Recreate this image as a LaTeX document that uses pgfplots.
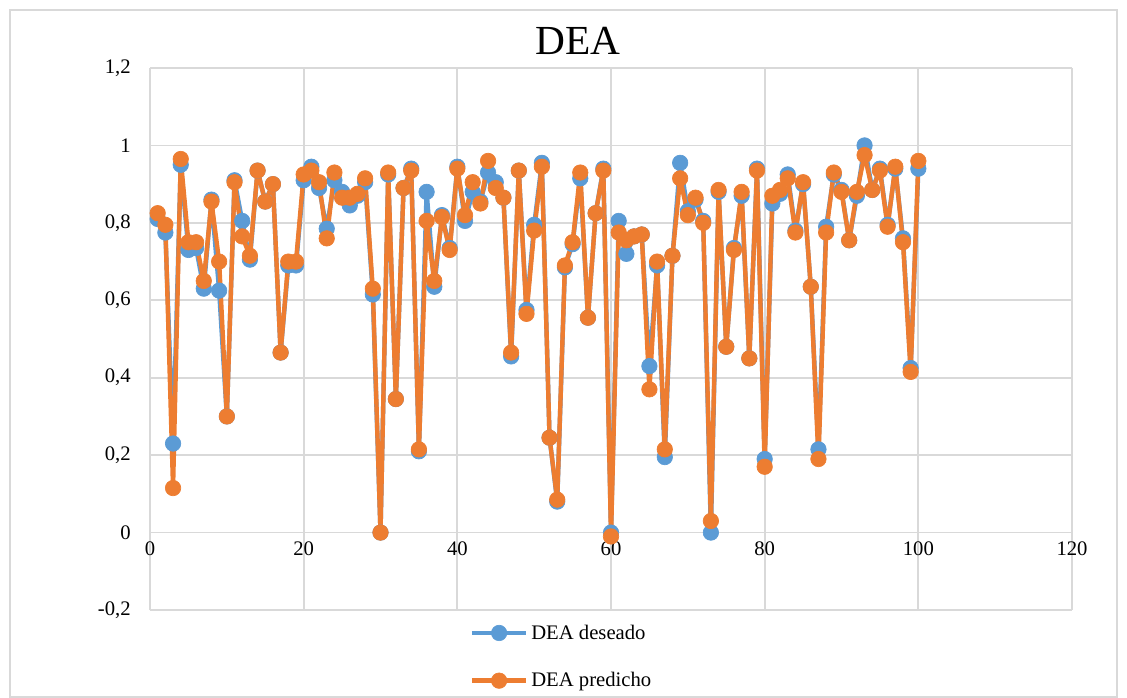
\documentclass[border=0pt]{standalone}
\usepackage{fontspec}
\setmainfont{Liberation Serif}
\usepackage{pgfplots}
\usepackage{pgfplotstable}
\pgfplotsset{compat=1.18}
\definecolor{cblue}{HTML}{5B9BD5}
\definecolor{corange}{HTML}{ED7D31}
\definecolor{gridgray}{HTML}{D9D9D9}
\pgfplotstableread{
i d p
1 0.81 0.825
2 0.775 0.795
3 0.23 0.115
4 0.95 0.965
5 0.73 0.75
6 0.735 0.75
7 0.63 0.65
8 0.86 0.855
9 0.625 0.70
10 0.30 0.30
11 0.91 0.905
12 0.805 0.765
13 0.705 0.715
14 0.935 0.935
15 0.855 0.855
16 0.90 0.90
17 0.465 0.465
18 0.69 0.70
19 0.69 0.70
20 0.91 0.925
21 0.945 0.935
22 0.89 0.905
23 0.785 0.76
24 0.91 0.93
25 0.88 0.865
26 0.845 0.865
27 0.87 0.875
28 0.905 0.915
29 0.615 0.63
30 0.0 0.0
31 0.925 0.93
32 0.345 0.345
33 0.89 0.89
34 0.94 0.935
35 0.21 0.215
36 0.88 0.805
37 0.635 0.65
38 0.82 0.815
39 0.735 0.73
40 0.945 0.94
41 0.805 0.82
42 0.88 0.905
43 0.855 0.85
44 0.93 0.96
45 0.905 0.89
46 0.865 0.865
47 0.455 0.465
48 0.935 0.935
49 0.575 0.565
50 0.795 0.78
51 0.955 0.945
52 0.245 0.245
53 0.08 0.085
54 0.685 0.69
55 0.745 0.75
56 0.915 0.93
57 0.555 0.555
58 0.825 0.825
59 0.94 0.935
60 0.0 -0.01
61 0.805 0.775
62 0.72 0.755
63 0.765 0.765
64 0.77 0.77
65 0.43 0.37
66 0.69 0.70
67 0.195 0.215
68 0.715 0.715
69 0.955 0.915
70 0.83 0.82
71 0.86 0.865
72 0.805 0.80
73 0.0 0.03
74 0.88 0.885
75 0.48 0.48
76 0.735 0.73
77 0.87 0.88
78 0.45 0.45
79 0.94 0.935
80 0.19 0.17
81 0.85 0.87
82 0.875 0.885
83 0.925 0.915
84 0.78 0.775
85 0.90 0.905
86 0.635 0.635
87 0.215 0.19
88 0.79 0.775
89 0.925 0.93
90 0.885 0.88
91 0.755 0.755
92 0.87 0.88
93 1.0 0.975
94 0.885 0.885
95 0.94 0.935
96 0.795 0.79
97 0.94 0.945
98 0.76 0.75
99 0.425 0.415
100 0.94 0.96
}\data
\begin{document}
\begin{tikzpicture}
\path[use as bounding box] (0pt,0pt) rectangle (845.25pt,-523.5pt);
\draw[gridgray, line width=1.1pt] (7.5pt,-7.5pt) rectangle (837.75pt,-522.75pt);
\node[font=\fontsize{31}{36}\selectfont, text=black] at (433.5pt,-30.75pt) {DEA};
\begin{axis}[
  at={(112.5pt,-457.5pt)}, anchor=south west,
  scale only axis, width=691.5pt, height=406.5pt,
  xmin=0, xmax=120, ymin=-0.2, ymax=1.2,
  xtick={0,20,...,120}, ytick={-0.2,0,0.2,0.4,0.6,0.8,1,1.2},
  axis x line*=middle, axis y line*=left,
  hide obscured x ticks=false, hide obscured y ticks=false,
  axis line style={gridgray, line width=1.3pt},
  major tick length=0pt,
  grid=major, major grid style={gridgray, line width=1.3pt},
  /pgf/number format/assume math mode=true,
  /pgf/number format/use comma,
  tick label style={font=\fontsize{15.5}{18}\selectfont, text=black},
  yticklabel style={xshift=-11pt},
  xticklabel style={yshift=-3pt},
  clip=false,
  legend style={at={(0.342,-0.017)}, anchor=north west, draw=none, fill=none,
    font=\fontsize{15.5}{18}\selectfont, row sep=19.5pt, legend cell align=left},
  legend image code/.code={\draw[mark repeat=2,mark phase=2,#1] plot coordinates {(0pt,0pt) (20.5pt,0pt) (41pt,0pt)};},
]
\addplot[cblue, line width=3.3pt, line join=round, mark=*, mark size=5.8pt, mark options={fill=cblue, draw=cblue, line width=0.5pt}] table[x=i, y=d] {\data};
\addlegendentry{DEA deseado}
\addplot[corange, line width=3.3pt, line join=round, mark=*, mark size=5.8pt, mark options={fill=corange, draw=corange, line width=0.5pt}] table[x=i, y=p] {\data};
\addlegendentry{DEA predicho}
\end{axis}
\end{tikzpicture}
\end{document}
